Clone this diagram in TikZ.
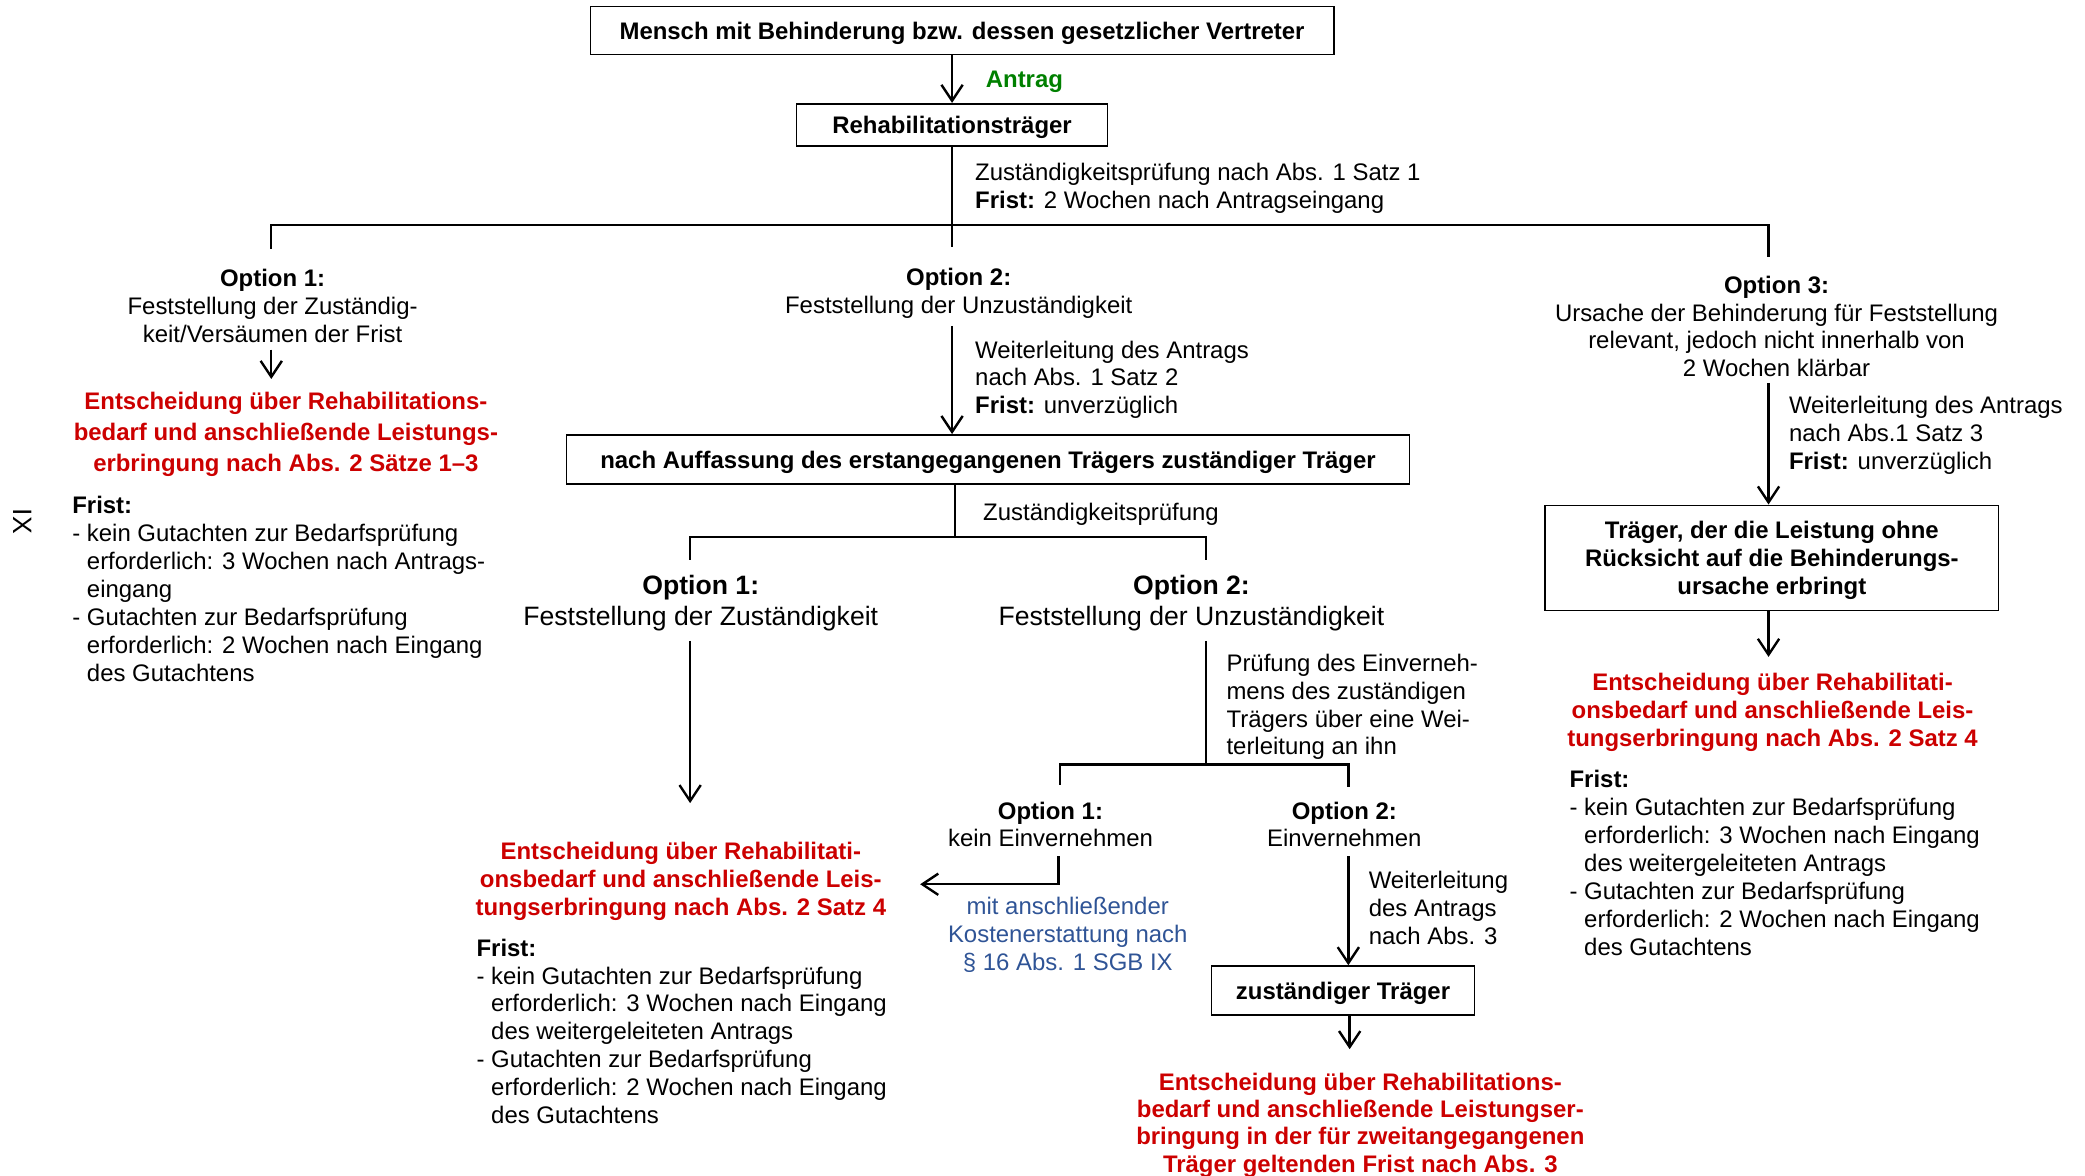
\documentclass[tikz,border=0pt]{standalone}
\usepackage{fontspec}
\setmainfont{Liberation Sans}
\usetikzlibrary{arrows.meta}
\definecolor{decisionred}{RGB}{204,0,0}
\definecolor{antraggreen}{RGB}{0,128,0}
\definecolor{costblue}{RGB}{47,84,150}
\newcommand\nsize{\fontsize{9}{10.5}\selectfont}
\newcommand\optsize{\fontsize{10}{11.5}\selectfont}
\newcommand\fristind{\phantom{- }}

\begin{document}
\begin{tikzpicture}[x=0.5pt,y=-0.5pt]
			\tikzstyle{box} = [draw,line width=0.6pt,inner sep=0pt,align=center,text depth=0pt,font=\bfseries\nsize]
			\tikzstyle{txt} = [inner sep=0pt,align=center,yshift=-0.5pt,font=\nsize]
			\tikzstyle{opt} = [inner sep=0pt,align=center,yshift=-0.5pt,font=\optsize]
			\tikzstyle{lbl} = [inner sep=0pt,align=left,anchor=west,yshift=-0.8pt,font=\nsize]
			\tikzstyle{decision} = [inner sep=0pt,align=center,yshift=-0.8pt,text=decisionred,font=\bfseries\nsize]
			\tikzstyle{edge} = [line width=0.9pt]
			\tikzstyle{edge2} = [edge,-{Straight Barb[length=6pt,width=8pt]}]
			\useasboundingbox (0,0) rectangle (1568,884);
			% top: applicant and first carrier
			\node[box,minimum width=279.5pt,minimum height=18pt] (mensch) at (723.5,23) {Mensch mit Behinderung bzw. dessen gesetzlicher Vertreter};
			\node[box,minimum width=117pt,minimum height=16pt] (reha) at (716,94) {Rehabilitationsträger};
			\node[lbl,font=\bfseries\nsize,text=antraggreen] (antrag) at (741,60) {Antrag};
			\draw[edge2] (reha.north |- mensch.south) -- (reha.north);
			\node[lbl] (pruef1) at (733,140) {Zuständigkeitsprüfung nach Abs. 1 Satz 1\\\textbf{Frist:} 2 Wochen nach Antragseingang};
			\coordinate (l1) at (204,169);
			\coordinate (r1) at (1330,169);
			\coordinate (l1e) at (204,187);
			\coordinate (m1e) at (716,186);
			\coordinate (r1e) at (1330,193);
			\draw[edge] (reha.south) -- (m1e);
			\draw[edge] (l1e) -- (l1) -- (r1) -- (r1e);
			% option 1: carrier is responsible
			\node[txt] (opt1) at (205,229) {\textbf{Option 1:}\\Feststellung der Zuständig-\\keit/Versäumen der Frist};
			\coordinate (a1s) at (204,263);
			\coordinate (a1e) at (204,285);
			\draw[edge2] (a1s) -- (a1e);
			\node[decision,font=\bfseries\fontsize{9}{11.5}\selectfont] (dec1) at (215,325) {Entscheidung über Rehabilitations-\\bedarf und anschließende Leistungs-\\erbringung nach Abs. 2 Sätze 1--3};
			\node[lbl] (frist1) at (54,441.5) {\textbf{Frist:}\\- kein Gutachten zur Bedarfsprüfung\\\fristind erforderlich: 3 Wochen nach Antrags-\\\fristind eingang\\- Gutachten zur Bedarfsprüfung\\\fristind erforderlich: 2 Wochen nach Eingang\\\fristind des Gutachtens};
			\node[inner sep=0pt,rotate=-90,font=\optsize] (ix) at (17,392) {IX};
			% option 2: forwarding to second carrier
			\node[txt] (opt2) at (721,219.5) {\textbf{Option 2:}\\Feststellung der Unzuständigkeit};
			\node[lbl] (weiter1) at (733,284) {Weiterleitung des Antrags\\nach Abs. 1 Satz 2\\\textbf{Frist:} unverzüglich};
			\node[box,minimum width=317pt,minimum height=18.5pt] (auff) at (743,345.5) {nach Auffassung des erstangegangenen Trägers zuständiger Träger};
			\coordinate (a2s) at (716,245);
			\draw[edge2] (a2s) -- (a2s |- auff.north);
			\coordinate (hub2) at (718,404);
			\coordinate (l2) at (519,404);
			\coordinate (r2) at (907,404);
			\coordinate (l2e) at (519,421);
			\coordinate (r2e) at (907,421);
			\draw[edge] (hub2 |- auff.south) -- (hub2);
			\draw[edge] (l2e) -- (l2) -- (r2) -- (r2e);
			\node[lbl] (pruef2) at (739,385) {Zuständigkeitsprüfung};
			\node[opt] (opt3) at (527,452.5) {\textbf{Option 1:}\\Feststellung der Zuständigkeit};
			\coordinate (a3s) at (519,482);
			\coordinate (a3e) at (519,604);
			\draw[edge2] (a3s) -- (a3e);
			\node[decision] (dec2) at (512,661) {Entscheidung über Rehabilitati-\\onsbedarf und anschließende Leis-\\tungserbringung nach Abs. 2 Satz 4};
			\node[lbl] (frist2) at (358,774) {\textbf{Frist:}\\- kein Gutachten zur Bedarfsprüfung\\\fristind erforderlich: 3 Wochen nach Eingang\\\fristind des weitergeleiteten Antrags\\- Gutachten zur Bedarfsprüfung\\\fristind erforderlich: 2 Wochen nach Eingang\\\fristind des Gutachtens};
			\node[opt] (opt4) at (896,452.5) {\textbf{Option 2:}\\Feststellung der Unzuständigkeit};
			\coordinate (a4s) at (907,482);
			\coordinate (hub3) at (907,575);
			\draw[edge] (a4s) -- (hub3);
			\node[lbl] (pruef3) at (922,530) {Prüfung des Einverneh-\\mens des zuständigen\\Trägers über eine Wei-\\terleitung an ihn};
			\coordinate (l3) at (797,575);
			\coordinate (r3) at (1014,575);
			\coordinate (l3e) at (797,590);
			\coordinate (r3e) at (1014,592);
			\draw[edge] (l3e) -- (l3) -- (r3) -- (r3e);
			% agreement or not
			\node[txt] (opt5) at (790,619) {\textbf{Option 1:}\\kein Einvernehmen};
			\coordinate (a5s) at (796,644);
			\coordinate (a5k) at (796,665);
			\coordinate (a5e) at (692,665);
			\draw[edge2] (a5s) -- (a5k) -- (a5e);
			\node[txt,text=costblue] (kosten) at (803,702) {mit anschließender\\Kostenerstattung nach\\§ 16 Abs. 1 SGB IX};
			\node[txt] (opt6) at (1011,619) {\textbf{Option 2:}\\Einvernehmen};
			\node[box,minimum width=99pt,minimum height=18.5pt] (zust) at (1010,745) {zuständiger Träger};
			\coordinate (a6s) at (1014,644);
			\draw[edge2] (a6s) -- (a6s |- zust.north);
			\node[lbl] (weiter2) at (1029,681) {Weiterleitung\\des Antrags\\nach Abs. 3};
			\coordinate (a7e) at (1015,789);
			\draw[edge2] (a7e |- zust.south) -- (a7e);
			\node[decision,font=\bfseries\fontsize{9}{10.25}\selectfont] (dec3) at (1023,844.5) {Entscheidung über Rehabilitations-\\bedarf und anschließende Leistungser-\\bringung in der für zweitangegangenen\\Träger geltenden Frist nach Abs. 3};
			% option 3: cause of disability unclear
			\node[txt] (opt7) at (1336,244.5) {\textbf{Option 3:}\\Ursache der Behinderung für Feststellung\\relevant, jedoch nicht innerhalb von\\2 Wochen klärbar};
			\node[box,minimum width=170.5pt,minimum height=39.5pt] (traeger) at (1332.5,419.5) {Träger, der die Leistung ohne\\Rücksicht auf die Behinderungs-\\ursache erbringt};
			\coordinate (a8s) at (1330,288);
			\draw[edge2] (a8s) -- (a8s |- traeger.north);
			\node[lbl] (weiter3) at (1345,326) {Weiterleitung des Antrags\\nach Abs.1 Satz 3\\\textbf{Frist:} unverzüglich};
			\coordinate (a9e) at (1330,494);
			\draw[edge2] (a9e |- traeger.south) -- (a9e);
			\node[decision] (dec4) at (1333,534) {Entscheidung über Rehabilitati-\\onsbedarf und anschließende Leis-\\tungserbringung nach Abs. 2 Satz 4};
			\node[lbl] (frist3) at (1180,647.5) {\textbf{Frist:}\\- kein Gutachten zur Bedarfsprüfung\\\fristind erforderlich: 3 Wochen nach Eingang\\\fristind des weitergeleiteten Antrags\\- Gutachten zur Bedarfsprüfung\\\fristind erforderlich: 2 Wochen nach Eingang\\\fristind des Gutachtens};
\end{tikzpicture}
\end{document}
